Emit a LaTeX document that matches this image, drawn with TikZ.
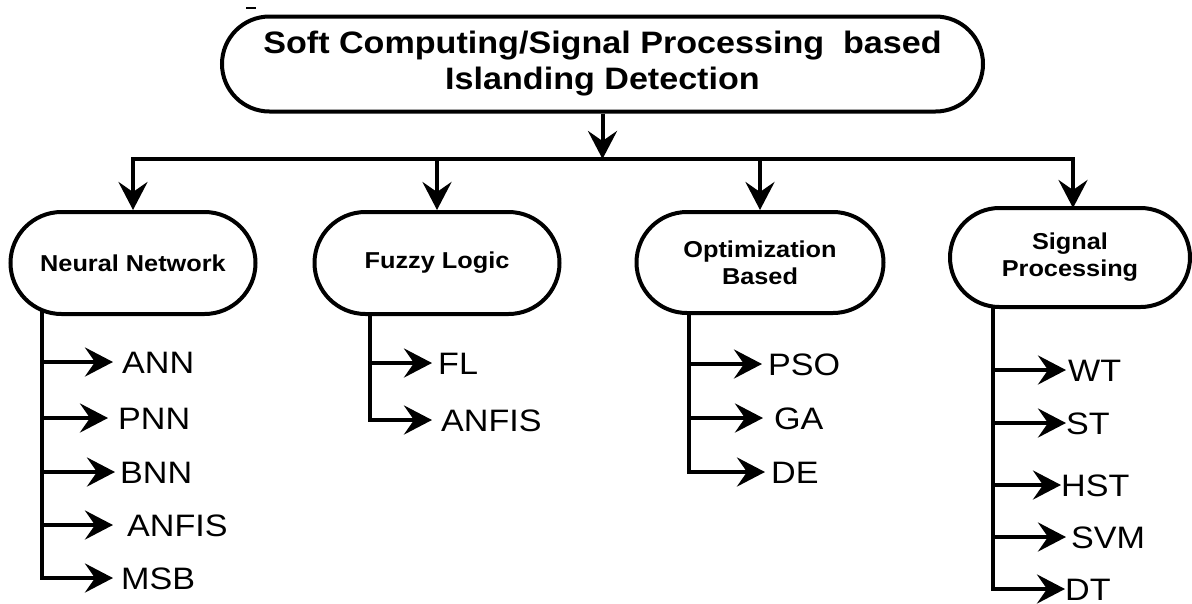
\documentclass[tikz,border=0pt]{standalone}
\usepackage{fontspec}
\setmainfont{Liberation Sans}[FakeStretch=1.1]
\usetikzlibrary{arrows.meta,backgrounds,shapes.misc}
\begin{document}
\begin{tikzpicture}[x=1pt,y=-1pt,
  catbox/.style={draw, line width=4pt, fill=white, rounded rectangle,
    align=center, inner sep=0pt, font=\bfseries\fontsize{23}{27}\selectfont},
  titlebox/.style={catbox, font=\bfseries\fontsize{31}{36}\selectfont},
  item/.style={anchor=west, inner sep=0pt, text height=22pt, text depth=0pt,
    font=\fontsize{31}{36}\selectfont},
  conn/.style={line width=4pt, line join=miter},
  tip/.style={Stealth[length=28pt,width=29pt,inset=10pt]},
  arr/.style={conn, -{Stealth[length=28pt,width=29pt,inset=10pt]}},
  arrboth/.style={conn, {Stealth[length=28pt,width=29pt,inset=10pt]}-{Stealth[length=28pt,width=29pt,inset=10pt]}}
]
\useasboundingbox (0,0) rectangle (1192,603);

% stray tick above the title box
\draw[line width=1.5pt] (246,8) -- (256,8);

% main and category boxes
\node[titlebox, minimum width=761pt, minimum height=95pt] (top) at (602.5,64)
  {Soft Computing/Signal Processing\ \ based\\Islanding Detection};
\node[catbox, minimum width=245pt, minimum height=102pt] (nn) at (133,263) {Neural Network};
\node[catbox, minimum width=245pt, minimum height=102pt] (fz) at (437,263) {Fuzzy Logic};
\node[catbox, minimum width=247pt, minimum height=101pt] (opt) at (760,262.5) {Optimization\\Based};
\node[catbox, minimum width=240pt, minimum height=99pt] (sig) at (1070,257.5) {Signal\\Processing};

% bus and branch columns
\coordinate (bus) at (0,159);
\coordinate (nnx) at (42,0);
\coordinate (fzx) at (370,0);
\coordinate (optx) at (689,0);
\coordinate (sigx) at (993,0);

% leaf labels
\node[item] (ann)  at (122,362) {ANN};
\node[item] (pnn)  at (118,418) {PNN};
\node[item] (bnn)  at (120,472) {BNN};
\node[item] (anfa) at (127,525) {ANFIS};
\node[item] (msb)  at (121,578) {MSB};

\node[item] (fl)   at (438,363) {FL};
\node[item] (anfb) at (441,420) {ANFIS};

\node[item] (pso)  at (768,364) {PSO};
\node[item] (ga)   at (774,418) {GA};
\node[item] (de)   at (771,472) {DE};

\node[item] (wt)   at (1068,370) {WT};
\node[item] (st)   at (1066,423) {ST};
\node[item] (hst)  at (1061,485) {HST};
\node[item] (svm)  at (1071,537) {SVM};
\node[item] (dt)   at (1065,589) {DT};

\begin{scope}[on background layer]
  % top level distribution
  \draw[arr] (top.south) -- (top.south |- bus);
  \draw[arrboth] (nn.north) -- (nn.north |- bus) -- (1073,159) -- (1073,208);
  \draw[arr] (fz.north |- bus) -- (fz.north);
  \draw[arr] (opt.north |- bus) -- (opt.north);

  % Neural Network column
  \draw[arr] (nn.center -| nnx) |- ([xshift=-8pt]msb.west);
  \draw[arr] (ann.west -| nnx) -- ([xshift=-9pt]ann.west);
  \draw[arr] (pnn.west -| nnx) -- ([xshift=-10pt]pnn.west);
  \draw[arr] (bnn.west -| nnx) -- ([xshift=-5pt]bnn.west);
  \draw[arr] (anfa.west -| nnx) -- ([xshift=-14pt]anfa.west);

  % Fuzzy Logic column
  \draw[arr] (fz.center -| fzx) |- ([xshift=-9pt]anfb.west);
  \draw[arr] (fl.west -| fzx) -- ([xshift=-6pt]fl.west);

  % Optimization column
  \draw[arr] (opt.center -| optx) |- ([xshift=-6pt]de.west);
  \draw[arr] (pso.west -| optx) -- ([xshift=-6pt]pso.west);
  \draw[arr] (ga.west -| optx) -- ([xshift=-11pt]ga.west);

  % Signal Processing column
  \draw[arr] (sig.center -| sigx) |- ([xshift=0pt]dt.west);
  \draw[arr] (wt.west -| sigx) -- ([xshift=-2pt]wt.west);
  \draw[arr] (st.west -| sigx) -- ([xshift=0pt]st.west);
  \draw[arr] (hst.west -| sigx) -- ([xshift=0pt]hst.west);
  \draw[arr] (svm.west -| sigx) -- ([xshift=-5pt]svm.west);
\end{scope}
\end{tikzpicture}
\end{document}
